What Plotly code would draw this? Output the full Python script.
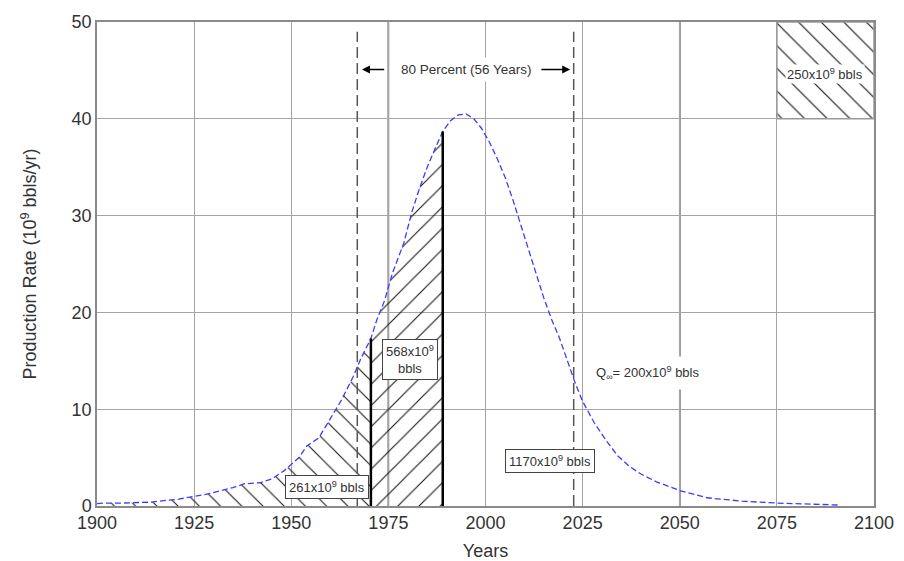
import numpy as np
import plotly.graph_objects as go

# ---- data ----
years = [1900, 1902, 1906, 1910, 1914, 1918, 1921, 1925, 1928, 1932, 1935, 1938, 1942, 1945,
         1948, 1950, 1952, 1954, 1957, 1959, 1961, 1963, 1966, 1968, 1970.5, 1972, 1974,
         1976, 1979, 1981, 1983, 1985, 1987, 1989, 1991, 1993, 1995, 1997, 1999, 2001,
         2003, 2005, 2007, 2009, 2011, 2013, 2015, 2017, 2019, 2021, 2023, 2025, 2028,
         2031, 2034, 2037, 2040, 2044, 2050, 2057, 2066, 2075, 2091]
production = [0.25, 0.3, 0.3, 0.35, 0.4, 0.6, 0.7, 1.0, 1.2, 1.6, 1.9, 2.3, 2.4, 2.8,
              3.6, 4.3, 5.0, 6.2, 7.0, 8.3, 9.6, 11.0, 13.4, 15.3, 17.3, 19.2, 21.2,
              24.0, 27.2, 30.3, 32.8, 35.0, 36.9, 38.7, 39.8, 40.4, 40.5, 40.0, 39.0, 37.6,
              35.9, 34.0, 31.7, 29.2, 26.6, 24.1, 21.5, 19.3, 17.4, 15.1, 12.8, 10.8, 8.6,
              6.8, 5.2, 4.1, 3.3, 2.5, 1.6, 0.85, 0.5, 0.3, 0.1]

x_ticks = [1900, 1925, 1950, 1975, 2000, 2025, 2050, 2075, 2100]
y_ticks = [0, 10, 20, 30, 40, 50]

split_years = [1970.5, 1989]          # boundaries of hatched areas
interval_years = [1967, 2022.7]       # 80 percent interval (dashed)
reference_years = [1975, 2050]        # darker reference lines
box_x = [2075, 2100]                  # hatched legend box
box_y = [40, 50]

labels_area = ["261x10<sup>9</sup> bbls", "568x10<sup>9</sup><br>bbls", "1170x10<sup>9</sup> bbls"]
label_qinf = "Q<sub>∞</sub>= 200x10<sup>9</sup> bbls"
label_interval = "80 Percent (56 Years)"
label_box = "250x10<sup>9</sup> bbls"

yrs = np.array(years, dtype=float)
prod = np.array(production, dtype=float)

FONT = "Liberation Sans, Arial, sans-serif"
TXT = "#333333"
GRID = "#a4a4a4"
HATCH = "#111111"

fig = go.Figure()

def hatch(shape, size):
    return dict(shape=shape, fgcolor=HATCH, fgopacity=1, bgcolor="rgba(0,0,0,0)",
                size=size, solidity=0.07)

m1 = yrs <= split_years[0]
fig.add_trace(go.Scatter(x=yrs[m1], y=prod[m1], mode="lines", line=dict(width=0),
                         fill="tozeroy", fillcolor="rgba(0,0,0,0)", fillpattern=hatch("\\", 15),
                         hoverinfo="skip", showlegend=False))
m2 = (yrs >= split_years[0]) & (yrs <= split_years[1])
fig.add_trace(go.Scatter(x=yrs[m2], y=prod[m2], mode="lines", line=dict(width=0),
                         fill="tozeroy", fillcolor="rgba(0,0,0,0)", fillpattern=hatch("/", 15),
                         hoverinfo="skip", showlegend=False))
fig.add_trace(go.Scatter(x=[box_x[0], box_x[1], box_x[1], box_x[0], box_x[0]],
                         y=[box_y[0], box_y[0], box_y[1], box_y[1], box_y[0]],
                         mode="lines", line=dict(color="#999999", width=1.5),
                         fill="toself", fillcolor="rgba(0,0,0,0)", fillpattern=hatch("\\", 16),
                         hoverinfo="skip", showlegend=False))
fig.add_trace(go.Scatter(x=yrs, y=prod, mode="lines",
                         line=dict(color="#3c3cff", width=1.3, dash="6px,3px"),
                         showlegend=False))

shapes = []
for ry in reference_years:
    shapes.append(dict(type="line", xref="x", yref="y", x0=ry, x1=ry, y0=y_ticks[0], y1=y_ticks[-1],
                       line=dict(color="#505050", width=1.6), layer="below"))
for iy in interval_years:
    shapes.append(dict(type="line", xref="x", yref="y", x0=iy, x1=iy, y0=y_ticks[0], y1=49,
                       line=dict(color="#555555", width=1.5, dash="11px,5px")))
for sy in split_years:
    top = float(np.interp(sy, yrs, prod))
    shapes.append(dict(type="line", xref="x", yref="y", x0=sy, x1=sy, y0=0, y1=top,
                       line=dict(color="black", width=2.5)))

ann_font = dict(family=FONT, size=13, color=TXT)
box_ann = dict(xref="x", yref="y", showarrow=False, font=ann_font, bgcolor="white",
               bordercolor="#444444", borderwidth=1, borderpad=3)
annotations = [
    dict(x=1959.1, y=2.0, text=labels_area[0], **box_ann),
    dict(x=1980.6, y=15.1, text=labels_area[1], **box_ann),
    dict(x=2016.7, y=4.6, text=labels_area[2], **box_ann),
    dict(x=2041.6, y=13.7, text=label_qinf, xref="x", yref="y", showarrow=False,
         font=ann_font, bgcolor="white", borderpad=7),
    dict(x=1995.0, y=45.1, text=label_interval, xref="x", yref="y", showarrow=False,
         font=dict(family=FONT, size=13.5, color=TXT), bgcolor="white", borderpad=4),
    dict(x=sum(box_x) / 2, y=sum(box_y) / 2 - 0.4, text=label_box, xref="x", yref="y",
         showarrow=False, font=ann_font, bgcolor="white"),
    dict(x=interval_years[0] + 1.2, y=45.1, ax=interval_years[0] + 7.3, ay=45.1,
         xref="x", yref="y", axref="x", ayref="y", text="", showarrow=True,
         arrowhead=2, arrowsize=1, arrowwidth=1.6, arrowcolor="black"),
    dict(x=interval_years[1] - 0.9, y=45.1, ax=interval_years[1] - 8.7, ay=45.1,
         xref="x", yref="y", axref="x", ayref="y", text="", showarrow=True,
         arrowhead=2, arrowsize=1, arrowwidth=1.6, arrowcolor="black"),
]

fig.update_layout(
    width=888, height=553,
    margin=dict(l=89, r=22, t=14, b=55),
    paper_bgcolor="white", plot_bgcolor="white",
    font=dict(family=FONT, size=18, color=TXT),
    shapes=shapes, annotations=annotations,
    showlegend=False,
)
fig.update_xaxes(range=[x_ticks[0], x_ticks[-1]], tickvals=x_ticks, ticktext=[str(t) for t in x_ticks],
                 showgrid=True, gridcolor=GRID, gridwidth=1.4, zeroline=False,
                 showline=True, linecolor="#8a8a8a", linewidth=1.5, mirror=True,
                 ticks="", tickfont=dict(size=18, color=TXT),
                 title=dict(text="Years", font=dict(size=18, color=TXT), standoff=20),
                 automargin=False)
fig.update_yaxes(range=[y_ticks[0], y_ticks[-1]], tickvals=y_ticks, ticktext=[str(t) for t in y_ticks],
                 showgrid=True, gridcolor=GRID, gridwidth=1.4, zeroline=False,
                 showline=True, linecolor="#8a8a8a", linewidth=1.5, mirror=True,
                 ticks="", tickfont=dict(size=18, color=TXT),
                 title=dict(text="Production Rate (10<sup>9</sup> bbls/yr)", font=dict(size=18, color=TXT),
                            standoff=30),
                 automargin=False)

fig.write_html("out.html")
